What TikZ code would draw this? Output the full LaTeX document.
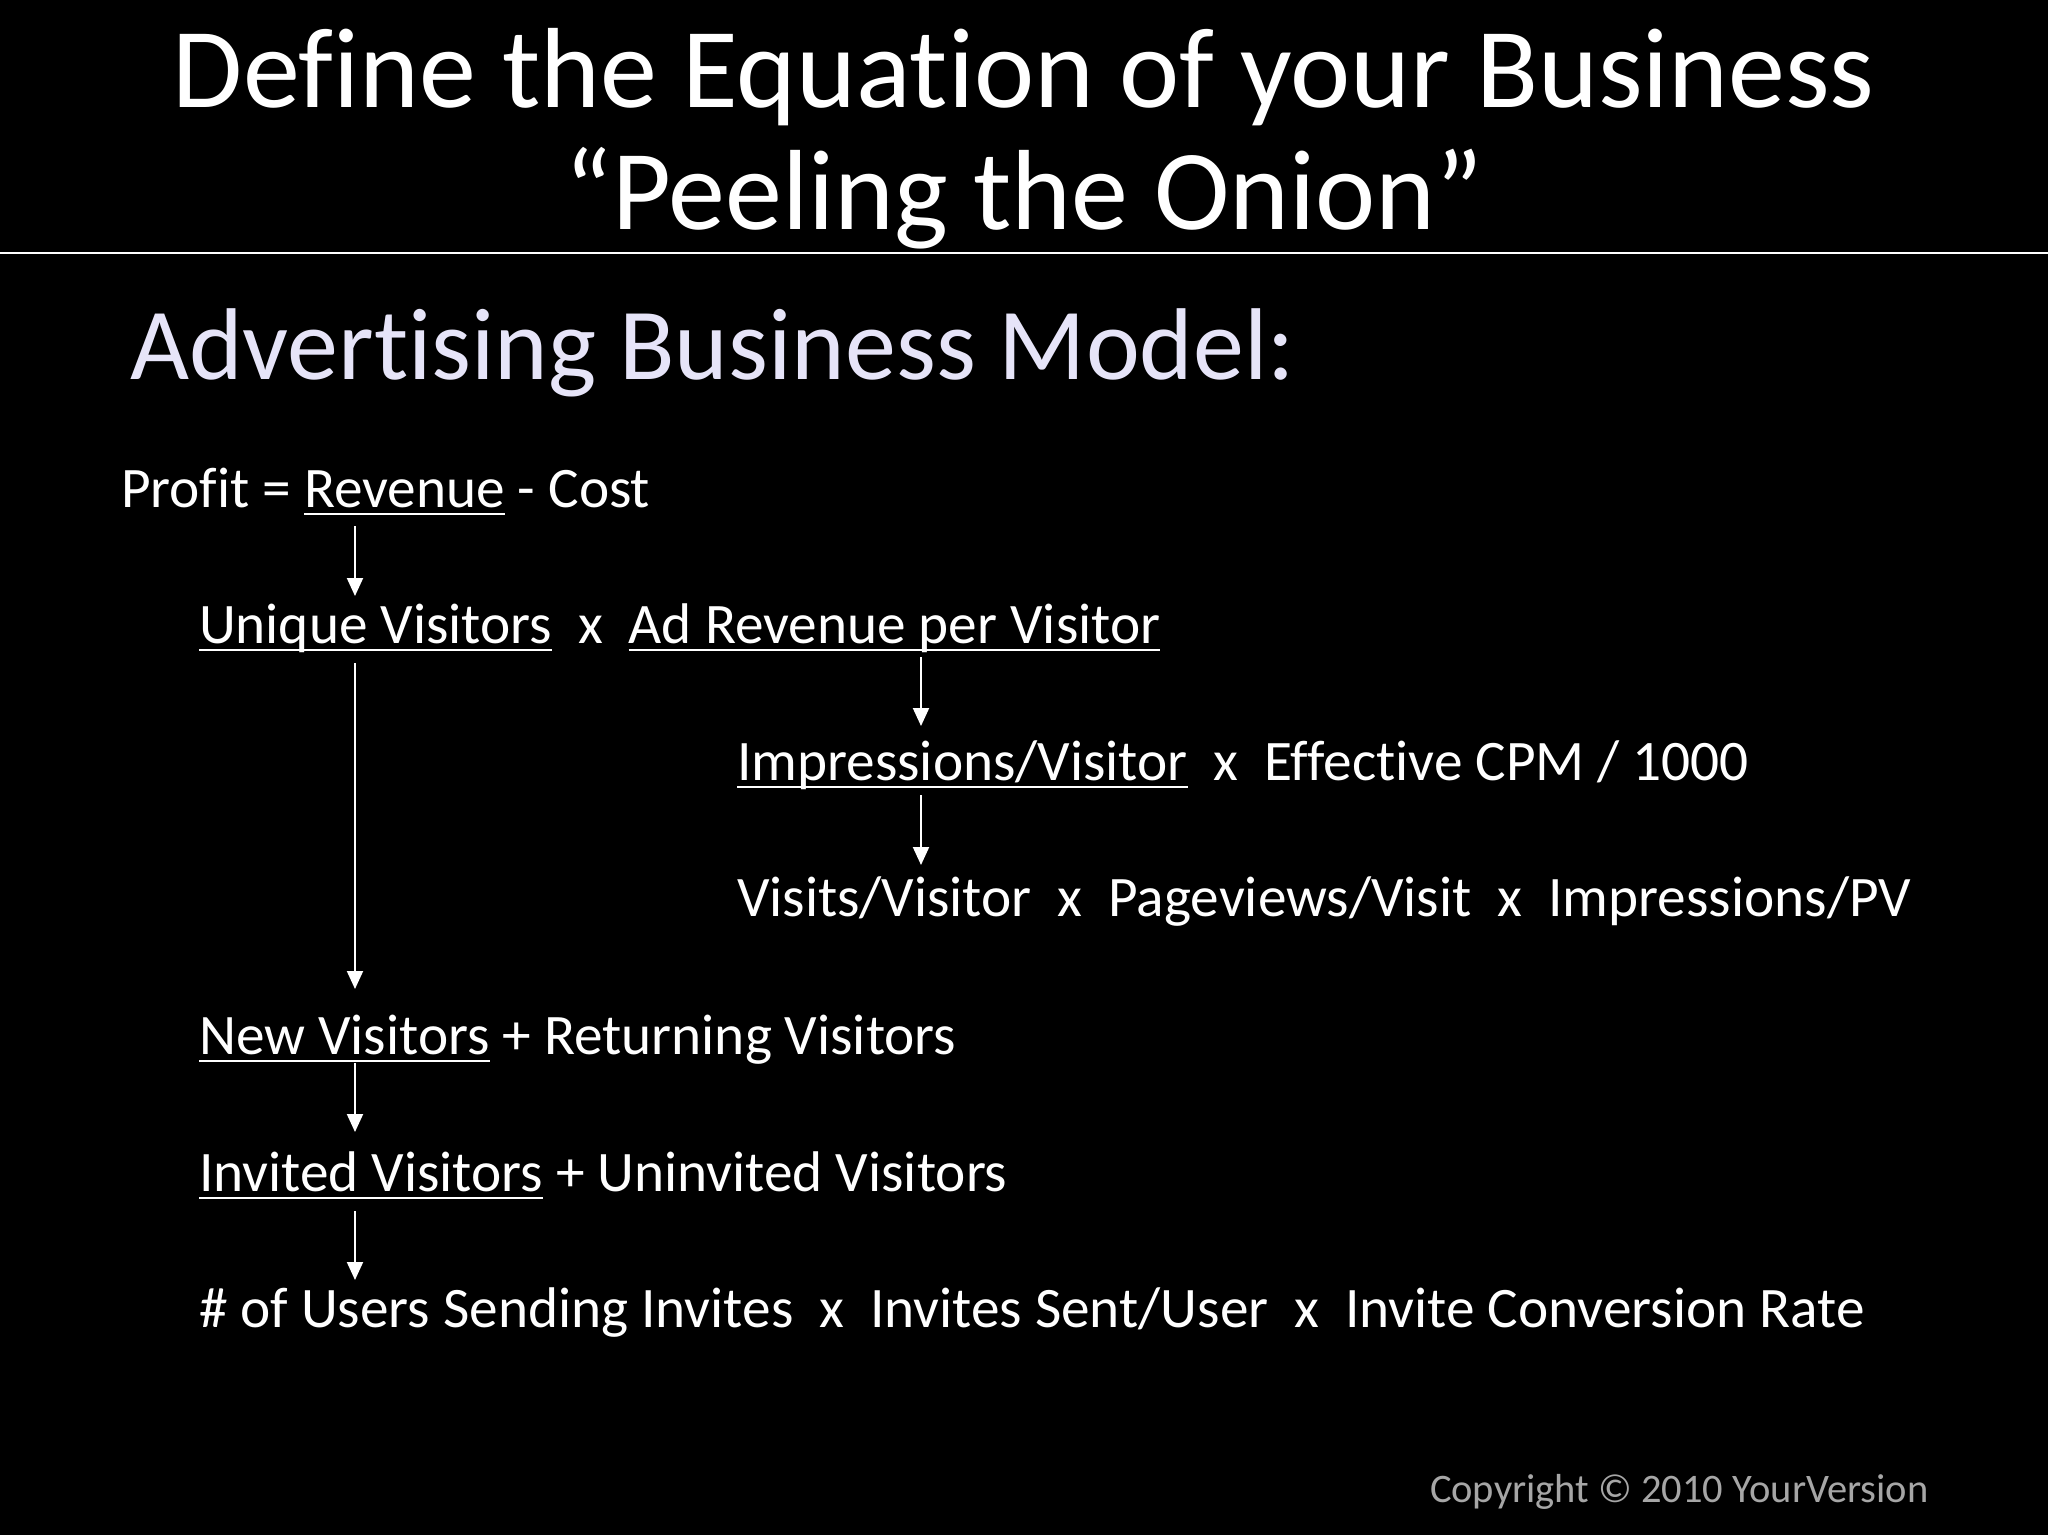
\documentclass[tikz,border=0pt]{standalone}
\usepackage{fontspec}
\setmainfont{Carlito}[Ligatures={NoCommon,NoRare,NoContextual}]
\usetikzlibrary{arrows.meta,calc}
\definecolor{subcol}{HTML}{E6E4F8}
\definecolor{copycol}{HTML}{A6A6A6}
\begin{document}
\begin{tikzpicture}[x=1pt,y=-1pt,
  every node/.style={inner sep=0pt,outer sep=0pt,text=white},
  titletext/.style={font=\fontsize{114}{122}\selectfont,anchor=base},
  subtext/.style={font=\fontsize{102}{110}\selectfont,anchor=base west,text=subcol},
  body/.style={font=\fontsize{57.3}{60}\selectfont,anchor=base west},
  copytext/.style={font=\fontsize{40.5}{44}\selectfont,anchor=base west,text=copycol},
  uline/.style={draw=white,line width=2.6pt},
  arr/.style={draw=white,line width=2pt,-{Triangle[length=18pt,width=16pt]}}]
\useasboundingbox (0,0) rectangle (2048,1534);
\fill[black] (-10,-10) rectangle (2058,1544);
% title
\node[titletext] (t1) at (1024,107) {Define the Equation of your Business};
\node[titletext] (t2) at (1024,229) {“Peeling the Onion”};
\draw[white,line width=2.5pt] (-5,253) -- (2053,253);
\node[subtext] (sub) at (130,379) {Advertising Business Model:};
% columns for arrows
\coordinate (colA) at (355,0);
\coordinate (colB) at (921,0);
% row 1
\node[body] (p1) at (121,507) {Profit =\ \mbox{}};
\node[body] (rev) at (p1.base east) {Revenue};
\node[body] (p2) at (rev.base east) {\ - Cost};
% row 2
\node[body] (uv) at (199,643) {Unique Visitors};
\node[body] (x1) at (uv.base east) {\ \ x\ \ \mbox{}};
\node[body] (adr) at (x1.base east) {Ad Revenue per Visitor};
% row 3
\node[body] (imp) at (737,780) {Impressions/Visitor};
\node[body] (ecpm) at (imp.base east) {\ \ x\ \ Effective CPM / 1000};
% row 4
\node[body] (vis) at (737,916) {Visits/Visitor\ \ x\ \ Pageviews/Visit\ \ x\ \ Impressions/PV};
% row 5
\node[body] (nv) at (199,1054) {New Visitors};
\node[body] (rv) at (nv.base east) {\ + Returning Visitors};
% row 6
\node[body] (inv) at (199,1191) {Invited Visitors};
\node[body] (uinv) at (inv.base east) {\ + Uninvited Visitors};
% row 7
\node[body] (users) at (199,1327) {\# of Users Sending Invites\ \ x\ \ Invites Sent/User\ \ x\ \ Invite Conversion Rate};
% underlines
\foreach \n in {rev,uv,adr,imp,nv,inv}{
  \draw[uline] ($(\n.base west)+(0,7)$) -- ($(\n.base east)+(0,7)$);
}
% arrows
\draw[arr] ($(rev.base -| colA)+(0,19)$) -- ($(uv.base -| colA)+(0,-47)$);
\draw[arr] ($(uv.base -| colA)+(0,20)$) -- ($(nv.base -| colA)+(0,-65)$);
\draw[arr] ($(adr.base -| colB)+(0,14)$) -- ($(imp.base -| colB)+(0,-54)$);
\draw[arr] ($(imp.base -| colB)+(0,15)$) -- ($(vis.base -| colB)+(0,-51)$);
\draw[arr] ($(nv.base -| colA)+(0,9)$) -- ($(inv.base -| colA)+(0,-59)$);
\draw[arr] ($(inv.base -| colA)+(0,20)$) -- ($(users.base -| colA)+(0,-47)$);
% copyright
\node[copytext] (copy) at (1430,1502) {Copyright © 2010 YourVersion};
\end{tikzpicture}
\end{document}
